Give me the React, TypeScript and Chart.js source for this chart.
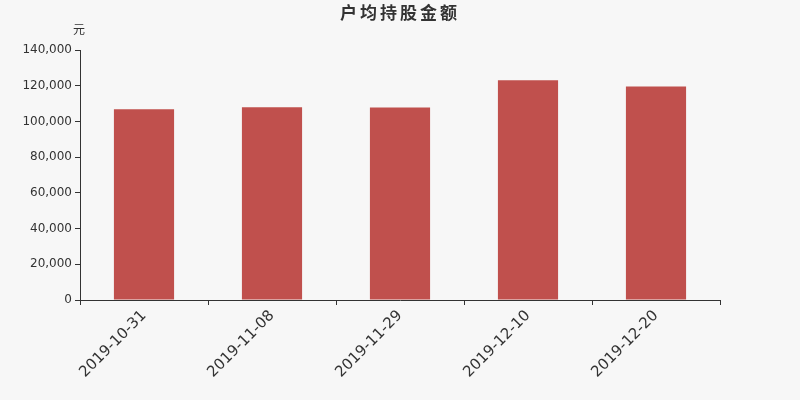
import React, { useEffect, useRef } from 'react';
import { Chart, registerables } from 'chart.js';

Chart.register(...registerables);

const titleText = '户均持股金额';
const unitText = '元';
const dates = ['2019-10-31', '2019-11-08', '2019-11-29', '2019-12-10', '2019-12-20'];
const amounts = [106800, 107900, 107800, 123000, 119600];

const BG = '#f7f7f7';
const INK = '#333333';

// title + unit label drawn straight onto the canvas
const headerPlugin = {
  id: 'header',
  beforeDraw(chart: Chart) {
    const ctx = chart.ctx;
    ctx.save();
    ctx.fillStyle = BG;
    ctx.fillRect(0, 0, chart.width, chart.height);
    ctx.restore();
  },
  afterDraw(chart: Chart) {
    const ctx = chart.ctx;
    ctx.save();
    ctx.fillStyle = INK;
    ctx.textAlign = 'center';
    ctx.textBaseline = 'middle';
    ctx.font = 'bold 17px "Noto Sans CJK SC"';
    (ctx as any).letterSpacing = '3px';
    ctx.fillText(titleText, 400, 13);
    (ctx as any).letterSpacing = '0px';
    ctx.font = '12px "Noto Sans CJK SC"';
    ctx.fillText(unitText, 79, 29);
    ctx.restore();
  },
};

const App: React.FC = () => {
  const canvasRef = useRef<HTMLCanvasElement>(null);
  const chartRef = useRef<Chart | null>(null);

  useEffect(() => {
    if (!canvasRef.current) return;
    if (chartRef.current) chartRef.current.destroy();
    const ctx = canvasRef.current.getContext('2d');
    if (!ctx) return;

    chartRef.current = new Chart(ctx, {
      type: 'bar',
      data: {
        labels: dates,
        datasets: [
          {
            label: titleText,
            data: amounts,
            backgroundColor: '#c0504d',
            barPercentage: 0.47,
            categoryPercentage: 1,
          },
        ],
      },
      plugins: [headerPlugin],
      options: {
        responsive: false,
        animation: false,
        layout: { padding: { top: 50, right: 80, left: 0, bottom: 0 } },
        plugins: {
          legend: { display: false },
          tooltip: { enabled: false },
        },
        scales: {
          x: {
            offset: true,
            afterFit: (scale: any) => {
              scale.height = 100;
            },
            grid: {
              offset: true,
              drawOnChartArea: false,
              drawTicks: true,
              tickLength: 5,
              color: INK,
            },
            border: { display: true, color: INK, width: 1 },
            ticks: {
              color: INK,
              font: { family: '"DejaVu Sans"', size: 15 },
              minRotation: 45,
              maxRotation: 45,
              padding: 2,
            },
          },
          y: {
            min: 0,
            max: 140000,
            afterFit: (scale: any) => {
              scale.width = 80;
            },
            grid: {
              drawOnChartArea: false,
              drawTicks: true,
              tickLength: 5,
              color: INK,
            },
            border: { display: true, color: INK, width: 1 },
            ticks: {
              stepSize: 20000,
              color: INK,
              font: { family: '"DejaVu Sans"', size: 12 },
              padding: 3,
              callback: (v: any) => Number(v).toLocaleString('en-US'),
            },
          },
        },
      },
    });

    return () => {
      if (chartRef.current) {
        chartRef.current.destroy();
        chartRef.current = null;
      }
    };
  }, []);

  return (
    <div style={{ position: 'absolute', left: 0, top: 0, width: 800, height: 400, background: BG }}>
      <canvas ref={canvasRef} width={800} height={400}></canvas>
    </div>
  );
};

export default App;
